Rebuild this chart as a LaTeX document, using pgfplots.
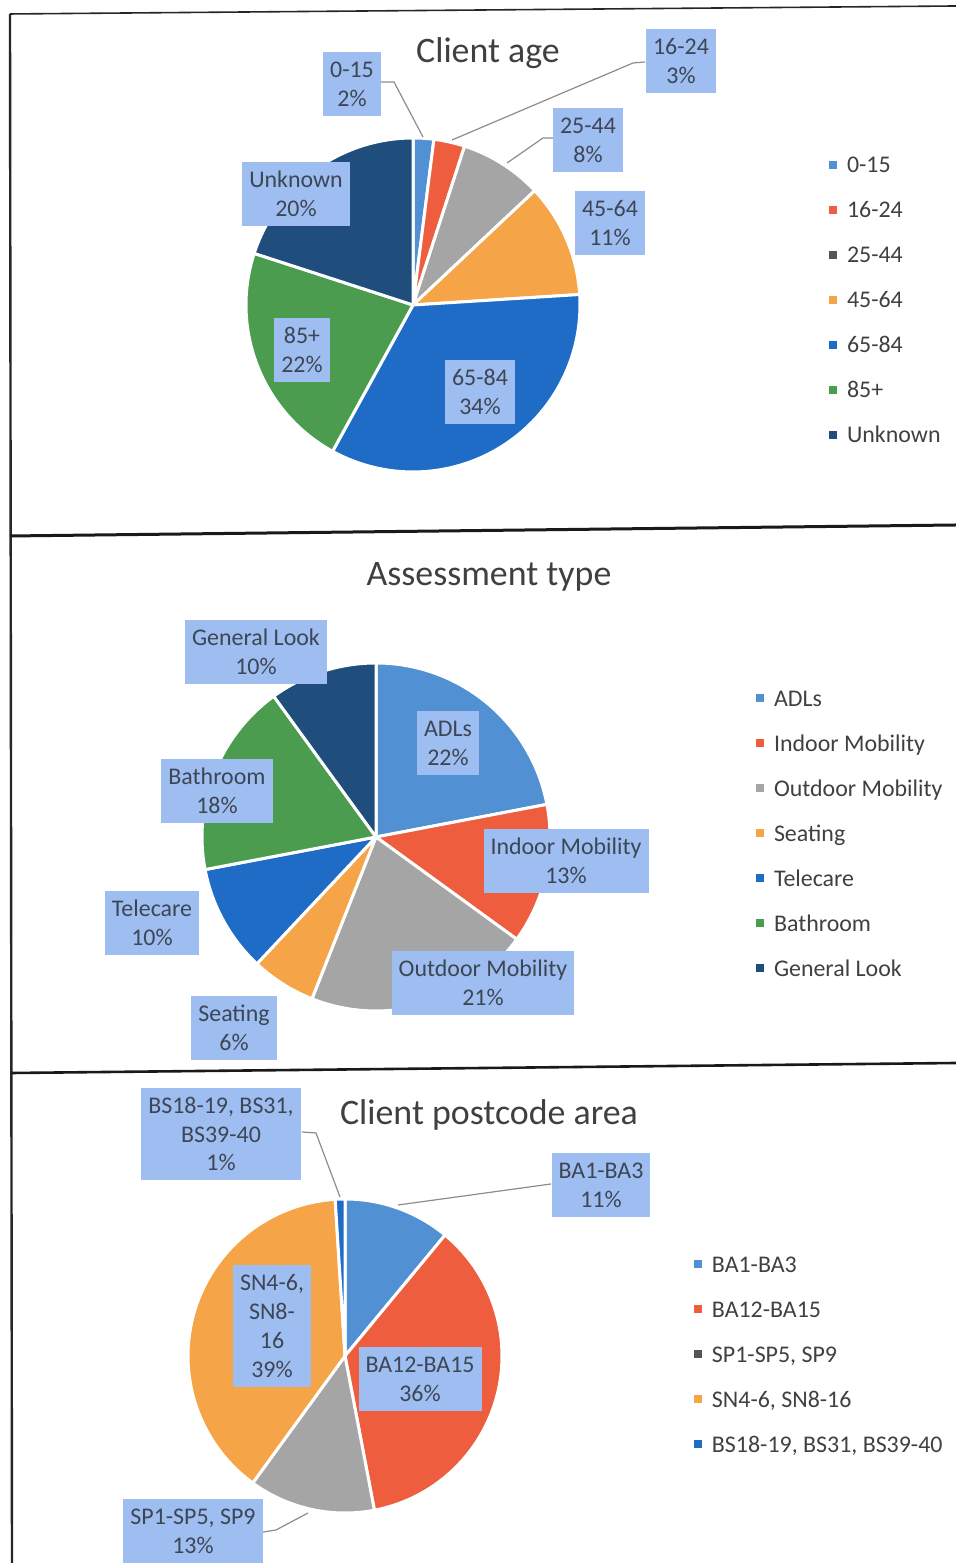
\documentclass[border=0pt]{standalone}
\usepackage{pgfplots}
\pgfplotsset{compat=1.18}
\usepackage{fontspec}
\setmainfont{Carlito}
\definecolor{cA}{HTML}{5090D3}
\definecolor{cB}{HTML}{EE5E3E}
\definecolor{cC}{HTML}{A5A5A5}
\definecolor{cD}{HTML}{F5A548}
\definecolor{cE}{HTML}{1F6CC6}
\definecolor{cF}{HTML}{4C9C50}
\definecolor{cG}{HTML}{1F4E7C}
\definecolor{lgC}{HTML}{555555}
\definecolor{boxfill}{HTML}{9EBDF0}
\definecolor{txt}{HTML}{404040}
\definecolor{lbltxt}{HTML}{3D4654}
\definecolor{leader}{HTML}{8C8C8C}

% slice: cx, cy (pixels, downward), r, start %, end %, colour
\newcommand{\slice}[6]{%
  \addplot[forget plot, fill=#6, draw=white, line width=1.5bp, line join=round,
           domain=#4*3.6:#5*3.6, samples=60]
    ({#1+#3*sin(x)},{-#2+#3*cos(x)}) -- (axis cs:#1,-#2) -- cycle;
}
\pgfplotsset{
  sq/.style={legend image code/.code={\fill[##1, draw=none] (0bp,-2bp) rectangle (4bp,2bp); \path[draw=none, fill=none] (0bp,0bp) (9bp,0bp);}},
  panel/.style={width=478bp, height=781.5bp, scale only axis,
    xmin=0, xmax=956, ymin=-1563, ymax=0, hide axis, clip=false,
    at={(0,0)}, anchor=south west, legend cell align=left,
    legend style={draw=none, fill=none, inner sep=0pt, outer sep=0pt,
      font=\fontsize{12}{14}\selectfont, text=txt, row sep=14.5bp,
      nodes={inner sep=0pt, text height=8bp, text depth=0pt}, anchor=north west}}
}
\tikzset{
  lbl/.style={fill=boxfill, text=lbltxt, align=center, font=\fontsize{12}{14.5}\selectfont,
    inner xsep=3.5bp, inner ysep=2bp, minimum height=32bp},
  ttl/.style={font=\fontsize{18}{20}\selectfont, text=txt},
  ldr/.style={draw=leader, line width=0.6bp}
}
\begin{document}
\begin{tikzpicture}
\path[use as bounding box] (0,0) rectangle (478bp,781.5bp);

% ---------------- Panel 1: Client age ----------------
\begin{axis}[panel, legend style={at={(axis description cs:0.8672,0.8996)}}]
  \draw[black!85, line width=0.8bp] (axis cs:10,-14) -- (axis cs:956,-6);
  \draw[black!85, line width=1.2bp] (axis cs:10,-14) -- (axis cs:12,-1563);
  \draw[black!90, line width=1.5bp] (axis cs:10,-536) -- (axis cs:956,-525);
  \draw[black!90, line width=1.3bp] (axis cs:12,-1073) -- (axis cs:956,-1063);
  \slice{413}{305}{167}{0}{2}{cA}
  \slice{413}{305}{167}{2}{5}{cB}
  \slice{413}{305}{167}{5}{13}{cC}
  \slice{413}{305}{167}{13}{24}{cD}
  \slice{413}{305}{167}{24}{58}{cE}
  \slice{413}{305}{167}{58}{80}{cF}
  \slice{413}{305}{167}{80}{100}{cG}
  \addlegendimage{sq, fill=cA}\addlegendentry{0-15}
  \addlegendimage{sq, fill=cB}\addlegendentry{16-24}
  \addlegendimage{sq, fill=lgC}\addlegendentry{25-44}
  \addlegendimage{sq, fill=cD}\addlegendentry{45-64}
  \addlegendimage{sq, fill=cE}\addlegendentry{65-84}
  \addlegendimage{sq, fill=cF}\addlegendentry{85+}
  \addlegendimage{sq, fill=cG}\addlegendentry{Unknown}
  \node[ttl] at (axis cs:488,-53) {Client age};
  \draw[ldr] (axis cs:381,-82) -- (axis cs:394,-82) -- (axis cs:423,-137);
  \draw[ldr] (axis cs:645,-62) -- (axis cs:633,-63) -- (axis cs:452,-140);
  \draw[ldr] (axis cs:553,-138) -- (axis cs:543,-138) -- (axis cs:507,-163);
  \node[lbl] at (axis cs:352,-84) {0-15\\2\%};
  \node[lbl] at (axis cs:681,-61) {16-24\\3\%};
  \node[lbl] at (axis cs:588,-140) {25-44\\8\%};
  \node[lbl] at (axis cs:610,-223) {45-64\\11\%};
  \node[lbl] at (axis cs:296,-194) {Unknown\\20\%};
  \node[lbl] at (axis cs:302,-350) {85+\\22\%};
  \node[lbl] at (axis cs:480,-392) {65-84\\34\%};
\end{axis}

% ---------------- Panel 2: Assessment type ----------------
\begin{axis}[panel, legend style={at={(axis description cs:0.7908,0.5585)}}]
  \slice{376}{837}{174}{0}{22}{cA}
  \slice{376}{837}{174}{22}{35}{cB}
  \slice{376}{837}{174}{35}{56}{cC}
  \slice{376}{837}{174}{56}{62}{cD}
  \slice{376}{837}{174}{62}{72}{cE}
  \slice{376}{837}{174}{72}{90}{cF}
  \slice{376}{837}{174}{90}{100}{cG}
  \addlegendimage{sq, fill=cA}\addlegendentry{ADLs}
  \addlegendimage{sq, fill=cB}\addlegendentry{Indoor Mobility}
  \addlegendimage{sq, fill=cC}\addlegendentry{Outdoor Mobility}
  \addlegendimage{sq, fill=cD}\addlegendentry{Seating}
  \addlegendimage{sq, fill=cE}\addlegendentry{Telecare}
  \addlegendimage{sq, fill=cF}\addlegendentry{Bathroom}
  \addlegendimage{sq, fill=cG}\addlegendentry{General Look}
  \node[ttl] at (axis cs:489,-577) {Assessment type};
  \node[lbl] at (axis cs:256,-652) {General Look\\10\%};
  \node[lbl] at (axis cs:448,-743) {ADLs\\22\%};
  \node[lbl] at (axis cs:217,-791) {Bathroom\\18\%};
  \node[lbl] at (axis cs:566,-861) {Indoor Mobility\\13\%};
  \node[lbl] at (axis cs:152,-923) {Telecare\\10\%};
  \node[lbl] at (axis cs:483,-983) {Outdoor Mobility\\21\%};
  \node[lbl] at (axis cs:234,-1028) {Seating\\6\%};
\end{axis}

% ---------------- Panel 3: Client postcode area ----------------
\begin{axis}[panel, legend style={at={(axis description cs:0.7259,0.1964)}}]
  \slice{345}{1356}{157}{0}{11}{cA}
  \slice{345}{1356}{157}{11}{47}{cB}
  \slice{345}{1356}{157}{47}{60}{cC}
  \slice{345}{1356}{157}{60}{99}{cD}
  \slice{345}{1356}{157}{99}{100}{cE}
  \addlegendimage{sq, fill=cA}\addlegendentry{BA1-BA3}
  \addlegendimage{sq, fill=cB}\addlegendentry{BA12-BA15}
  \addlegendimage{sq, fill=lgC}\addlegendentry{SP1-SP5, SP9}
  \addlegendimage{sq, fill=cD}\addlegendentry{SN4-6, SN8-16}
  \addlegendimage{sq, fill=cE}\addlegendentry{BS18-19, BS31, BS39-40}
  \node[ttl] at (axis cs:489,-1115) {Client postcode area};
  \draw[ldr] (axis cs:302,-1132) -- (axis cs:316,-1133) -- (axis cs:340,-1197);
  \draw[ldr] (axis cs:551,-1184) -- (axis cs:398,-1205);
  \draw[ldr] (axis cs:263,-1532) -- (axis cs:276,-1530) -- (axis cs:308,-1513);
  \node[lbl, minimum height=46bp] at (axis cs:221,-1134) {BS18-19, BS31,\\BS39-40\\1\%};
  \node[lbl] at (axis cs:601,-1185) {BA1-BA3\\11\%};
  \node[lbl, minimum height=61bp] at (axis cs:272,-1326) {SN4-6,\\SN8-\\16\\39\%};
  \node[lbl] at (axis cs:420,-1379) {BA12-BA15\\36\%};
  \node[lbl] at (axis cs:193,-1531) {SP1-SP5, SP9\\13\%};
\end{axis}
\end{tikzpicture}
\end{document}
